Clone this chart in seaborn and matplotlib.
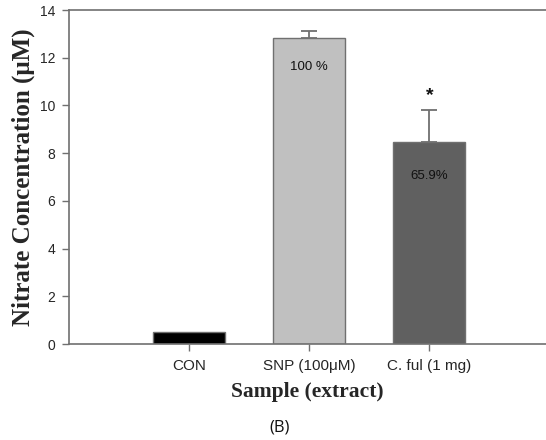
import matplotlib
matplotlib.use("Agg")
import matplotlib.pyplot as plt
import seaborn as sns
import pandas as pd

categories = ["CON", "SNP (100\u03bcM)", "C. ful (1 mg)"]
values = [0.5, 12.83, 8.47]
errors = [0.0, 0.27, 1.33]
bar_colors = ["#000000", "#c0c0c0", "#606060"]
inside_labels = ["", "100 %", "65.9%"]
inside_y = [0, 11.6, 7.06]
yticks = [0, 2, 4, 6, 8, 10, 12, 14]

sns.set_style("white")
plt.rcParams["font.family"] = ["Liberation Sans", "DejaVu Sans"]

df = pd.DataFrame({"cat": categories, "val": values})

fig = plt.figure(figsize=(5.46, 4.4), dpi=100)
ax = fig.add_axes([69/546, 96/440, 1 - 69/546, (344-10)/440])

sns.barplot(data=df, x="cat", y="val", hue="cat", palette=bar_colors,
            order=categories, hue_order=categories, legend=False,
            width=0.6, edgecolor="#707070", linewidth=1.0, ax=ax, errorbar=None)

xs = list(range(len(categories)))
for i in xs:
    if errors[i] > 0:
        ax.errorbar(i, values[i], yerr=[[0], [errors[i]]], fmt="none",
                    ecolor="#707070", elinewidth=1.3, capsize=6, capthick=1.3, zorder=3)
    if inside_labels[i]:
        ax.text(i, inside_y[i], inside_labels[i], ha="center", va="center",
                fontsize=9.5, color="#111111")

ax.text(2, values[2] + errors[2] + 0.6, "*", ha="center", va="center",
        fontsize=14, fontweight="bold", color="#111111")

ax.set_xlim(-1.0, 2.97)
ax.set_ylim(0, 14)
ax.set_yticks(yticks)
ax.set_yticklabels([str(t) for t in yticks], fontsize=10)
ax.tick_params(axis="x", labelsize=11, length=5, width=1, color="#707070", pad=6, direction="out")
ax.tick_params(axis="y", length=5, width=1, color="#707070", pad=5, direction="out")
ax.tick_params(bottom=True, left=True)

for s in ["left", "top", "bottom"]:
    ax.spines[s].set_color("#707070")
    ax.spines[s].set_linewidth(1.2)
ax.spines["right"].set_visible(False)

ax.set_xlabel("Sample (extract)", fontsize=15.5, fontweight="bold",
              family=["Liberation Serif", "DejaVu Serif"], labelpad=6)
ax.set_ylabel("Nitrate Concentration (\u03bcM)", fontsize=18, fontweight="bold",
              family=["Liberation Serif", "DejaVu Serif"], labelpad=3)

fig.text(280/546, 1 - 427/440, "(B)", ha="center", va="center", fontsize=12,
         family=["Open Sans", "DejaVu Sans"], color="#111111")

fig.savefig("out.png", dpi=100)
